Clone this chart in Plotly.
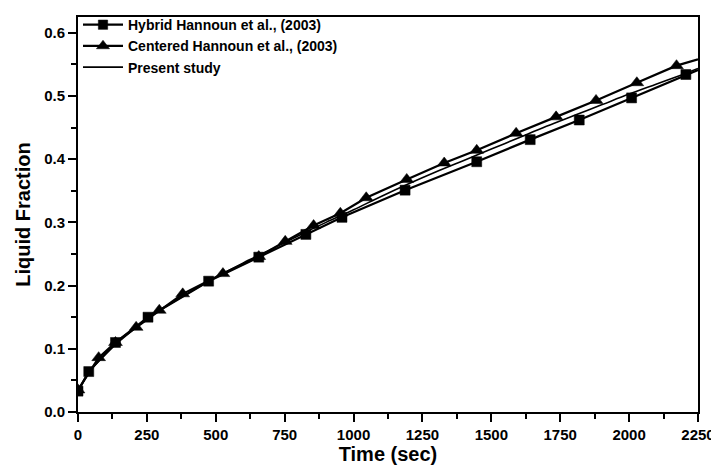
import plotly.graph_objects as go

# Hybrid Hannoun et al. (2003) - squares
hyb_t = [0, 39, 136, 254, 474, 656, 827, 958, 1187, 1447, 1641, 1819, 2009, 2206, 2250]
hyb_f = [0.033, 0.064, 0.110, 0.150, 0.207, 0.245, 0.281, 0.308, 0.351, 0.396, 0.431, 0.462, 0.497, 0.534, 0.541]

# Centered Hannoun et al. (2003) - triangles
cen_t = [0, 75, 136, 211, 295, 380, 526, 656, 752, 855, 952, 1046, 1193, 1329, 1447, 1590, 1735, 1880, 2028, 2172, 2250]
cen_f = [0.035, 0.086, 0.110, 0.134, 0.161, 0.187, 0.219, 0.246, 0.270, 0.295, 0.3145, 0.339, 0.368, 0.394, 0.414,
         0.441, 0.467, 0.493, 0.521, 0.548, 0.558]

# Present study
pre_t = [0, 25, 50, 100, 150, 200, 250, 300, 400, 500, 600, 700, 800, 900, 1000, 1100, 1200, 1300, 1400,
         1500, 1600, 1700, 1800, 1900, 2000, 2100, 2200, 2250]
pre_f = [0.033, 0.052, 0.068, 0.091, 0.112, 0.130, 0.147, 0.162, 0.188, 0.213, 0.236, 0.257, 0.279, 0.300,
         0.320, 0.341, 0.361, 0.380, 0.398, 0.416, 0.434, 0.452, 0.469, 0.486, 0.503, 0.519, 0.535, 0.5435]

x_ticks = [0, 250, 500, 750, 1000, 1250, 1500, 1750, 2000, 2250]
y_ticks = [0.0, 0.1, 0.2, 0.3, 0.4, 0.5, 0.6]

FONT = "Liberation Sans, Arial, sans-serif"

hyb_sizes = [10] * (len(hyb_t) - 1) + [0]
cen_sizes = [12] * (len(cen_t) - 1) + [0]

fig = go.Figure()
fig.add_trace(go.Scatter(
    x=hyb_t, y=hyb_f, mode="lines+markers", name="Hybrid Hannoun et al., (2003)",
    line=dict(color="black", width=2.2),
    marker=dict(symbol="square", size=hyb_sizes, color="black", opacity=1,
                line=dict(width=0.5, color="black")),
))
fig.add_trace(go.Scatter(
    x=cen_t, y=cen_f, mode="lines+markers", name="Centered Hannoun et al., (2003)",
    line=dict(color="black", width=2.2),
    marker=dict(symbol="triangle-up", size=cen_sizes, color="black", opacity=1,
                line=dict(width=0.5, color="black")),
))
fig.add_trace(go.Scatter(
    x=pre_t, y=pre_f, mode="lines", name="Present study",
    line=dict(color="black", width=1.6, shape="spline"),
))

axis_common = dict(
    showgrid=False, zeroline=False, showline=True, linecolor="black", linewidth=2,
    mirror=True, ticks="outside", ticklen=8, tickwidth=2, tickcolor="black", automargin=False,
    tickfont=dict(family=FONT, size=15, color="black", weight="bold"),
)

fig.update_xaxes(
    range=[0, 2250], tickvals=x_ticks, ticktext=[str(v) for v in x_ticks],
    minor=dict(ticks="outside", ticklen=5, tickwidth=1.5, tickcolor="black", dtick=125, tick0=0),
    title=dict(text="Time (sec)", font=dict(family=FONT, size=20, color="black", weight="bold"), standoff=2),
    **axis_common,
)
fig.update_yaxes(
    range=[0, 0.625], tickvals=y_ticks, ticktext=[f"{v:.1f}" for v in y_ticks],
    minor=dict(ticks="outside", ticklen=5, tickwidth=1.5, tickcolor="black", dtick=0.05, tick0=0),
    title=dict(text="Liquid Fraction", font=dict(family=FONT, size=20, color="black", weight="bold"), standoff=8),
    **axis_common,
)

fig.update_layout(
    width=711, height=460,
    margin=dict(l=70, r=21, t=1, b=56),
    paper_bgcolor="white", plot_bgcolor="white",
    legend=dict(x=0.0, y=1.02, xanchor="left", yanchor="top", bgcolor="rgba(0,0,0,0)",
                font=dict(family=FONT, size=14, color="black", weight="bold"),
                tracegroupgap=0, itemwidth=40),
    showlegend=True,
)

fig.write_html("out.html")
